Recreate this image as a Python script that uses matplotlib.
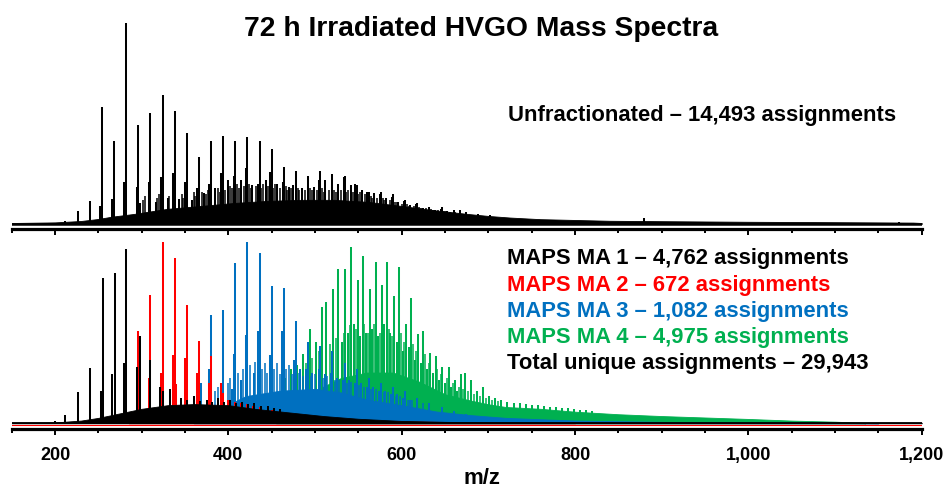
import matplotlib
matplotlib.use("Agg")
import matplotlib.pyplot as plt
from matplotlib.ticker import MultipleLocator, FixedLocator, FixedFormatter

plt.rcParams['font.family'] = ['Liberation Sans', 'DejaVu Sans']

BLACK = "#000000"
RED = "#FF0000"
BLUE = "#0070C0"
GREEN = "#00B050"

# ---------------- Unfractionated spectrum (top) ----------------
top_main_mz = [212, 226, 240, 254, 268, 282, 296, 310, 324, 338, 352, 366, 380, 394,
               408, 422, 436, 450, 464, 478, 492, 506, 520, 534, 548, 562, 576, 590,
               604, 618, 632, 646, 660, 879, 1174]
top_main_h = [1.6, 6.6, 11.6, 58.3, 41.2, 100, 49.2, 55.0, 64.2, 56.0, 45.4, 33.1, 41.4, 43.7,
              41.4, 43.1, 41.4, 37.3, 28.5, 26.5, 24.0, 26.2, 24.7, 24.0, 19.4, 16.0, 16.0, 14.7,
              11.9, 10.3, 8.3, 8.3, 7.0, 2.8, 1.2]
top_sec_mz = [252, 266, 280, 294, 298, 308, 316, 322, 330, 336, 343, 350, 358, 364, 372,
              378, 385, 392, 400, 406, 414, 420, 427, 434, 443, 448, 456, 463, 470, 475,
              485, 492, 499, 505, 512, 519, 526, 533, 541, 546, 554, 560, 568, 575, 582,
              589, 596, 603, 610, 617, 624, 631, 638, 645, 652, 667, 674, 688, 702]
top_sec_h = [8.9, 12.4, 21.0, 18.5, 10.4, 20.7, 11.0, 23.5, 12.8, 25.2, 12.4, 21.0, 12.0, 17.7, 15.2,
             19.9, 17.7, 25.5, 21.9, 24.0, 21.9, 28.0, 19.4, 20.0, 21.9, 25.7, 20.0, 21.0, 18.2, 19.4,
             17.7, 19.0, 18.5, 21.9, 21.9, 19.0, 20.0, 23.5, 19.4, 20.0, 16.9, 16.0, 15.2, 15.0, 13.0,
             13.5, 11.0, 11.5, 9.5, 10.0, 8.0, 8.5, 7.0, 7.5, 6.5, 7.0, 6.0, 5.0, 4.5]
top_minor_mz = [302, 304, 318, 320, 332, 346, 348, 360, 362, 370, 374, 376, 388, 390, 396,
                402, 404, 410, 412, 418, 424, 426, 432, 438, 440, 446, 452, 454, 460, 466,
                468, 472, 480, 482, 488, 494, 496, 502, 508, 510, 516, 522, 524, 530, 536,
                538, 544, 550, 552, 558, 564, 566, 572, 578, 580, 586, 592, 594, 600, 606,
                608, 614, 620, 622, 628, 634, 636, 642, 648, 650, 656, 662]
top_minor_h = [12, 14, 13, 15, 14, 15, 13, 16, 14, 16, 15, 17, 18, 16, 17,
               19, 18, 20, 18, 19, 20, 18, 19, 18, 20, 19, 18, 20, 18, 19,
               17, 18, 18, 17, 17, 18, 17, 17, 18, 16, 17, 17, 16, 17, 16,
               17, 16, 15, 16, 15, 14, 13, 13, 13, 12, 12, 11, 11, 10, 10,
               9, 9, 8.5, 8, 8, 7.5, 7, 7, 6.5, 6.5, 6, 6]
top_env_mz = [150, 200, 230, 250, 265, 291, 329, 369, 408, 446, 484, 522, 561, 599, 638,
              676, 700, 725, 760, 800, 840, 900, 1000, 1100, 1190, 1200]
top_env_h = [0.5, 0.8, 1.5, 2.5, 3.6, 5.0, 7.5, 9.0, 10.5, 11.5, 12.0, 12.0, 11.0, 9.0, 6.8,
             5.0, 4.0, 3.2, 2.4, 2.0, 1.6, 1.4, 1.1, 0.9, 0.7, 0.5]

# ---------------- MAPS MA 1 (black) ----------------
ma1_mz = [200, 212, 227, 240, 253, 255, 266, 269, 280, 282, 295, 298, 310, 321, 324, 333,
          345, 352, 360, 367, 375, 381, 388, 395, 402, 409, 416, 423, 430, 438, 446, 453, 460]
ma1_h = [1.2, 4.6, 17.0, 30.7, 18.0, 80.0, 27.0, 83.0, 33.0, 96.0, 31.0, 48.0, 35.0, 20.0, 18.0, 18.7,
         14.0, 13.0, 15.0, 12.5, 13.0, 12.0, 14.0, 11.5, 13.0, 11.0, 12.0, 10.5, 11.0, 9.5, 9.5, 8.5, 8.0]
ma1_env_mz = [150, 200, 230, 250, 270, 300, 330, 360, 400, 430, 470, 510, 550, 600, 650, 700, 1200]
ma1_env_h = [0.3, 0.5, 1.5, 3.0, 5.0, 8.0, 10.0, 10.6, 10.0, 8.0, 6.0, 4.0, 2.5, 1.3, 0.8, 0.5, 0.3]

# ---------------- MAPS MA 2 (red) ----------------
ma2_mz = [294, 296, 308, 310, 322, 324, 336, 338, 340, 350, 352, 364, 366, 378, 380, 391, 394,
          400, 408, 414, 422, 428, 436, 450]
ma2_h = [20.0, 51.0, 25.0, 70.8, 28.0, 100.0, 37.7, 91.4, 21.6, 36.0, 65.4, 28.0, 45.6, 22.0, 37.0,
         22.0, 16.5, 13.0, 12.0, 11.0, 10.5, 9.5, 9.0, 7.5]
ma2_env_mz = [285, 290, 310, 340, 380, 420, 460, 500, 540, 600, 700, 800]
ma2_env_h = [0.0, 3.0, 6.0, 10.0, 10.0, 8.0, 6.0, 4.0, 2.0, 1.0, 0.5, 0.0]

# ---------------- MAPS MA 3 (blue) ----------------
ma3_mz = [368, 378, 380, 392, 394, 404, 406, 408, 414, 420, 422, 429, 434, 436, 448, 450,
          462, 464, 476, 478, 483, 490, 492, 497, 504, 506, 511, 518, 520, 525, 532, 534,
          539, 546, 548, 553, 560, 562, 567, 574, 576, 581, 588, 590, 595, 602, 604, 609,
          618, 632, 646, 660, 674]
ma3_h = [22.0, 30.0, 59.7, 22.0, 62.5, 19.0, 38.0, 88.2, 24.0, 48.5, 100.0, 28.0, 51.0, 93.8, 37.7, 75.7,
         51.0, 74.5, 35.0, 56.3, 30.0, 30.0, 45.0, 28.0, 30.0, 42.6, 27.0, 28.0, 40.0, 25.0, 24.0, 33.0,
         24.0, 22.0, 30.0, 22.0, 20.0, 25.0, 20.0, 18.0, 22.0, 18.0, 16.0, 20.0, 16.0, 14.0, 18.0, 13.0,
         14.0, 11.0, 9.0, 7.0, 5.0]
ma3_minor_mz = [385, 388, 399, 402, 411, 417, 425, 431, 439, 442, 445, 453, 456, 459, 467,
                470, 473, 481, 486, 495, 500, 509, 514, 523, 528, 537, 542, 551, 556, 565,
                570, 579, 584, 593, 598, 607, 612, 625]
ma3_minor_h = [18, 20, 22, 25, 28, 30, 32, 34, 30, 33, 28, 30, 33, 27, 30,
               32, 27, 28, 26, 26, 27, 25, 26, 24, 24, 22, 23, 21, 20, 19,
               19, 17, 17, 15, 15, 13, 13, 11]
ma3_env_mz = [360, 370, 390, 420, 460, 500, 530, 560, 600, 640, 680, 720, 800, 900, 1000, 1100, 1150]
ma3_env_h = [0.0, 3.0, 8.0, 15.0, 18.0, 19.0, 17.0, 13.0, 10.0, 6.5, 4.5, 3.0, 1.5, 0.8, 0.4, 0.2, 0.0]

# ---------------- MAPS MA 4 (green) ----------------
ma4_mz = [465, 472, 479, 486, 494, 501, 508, 513, 521, 527, 531, 535, 538, 542, 545, 549,
          552, 555, 559, 563, 566, 570, 573, 577, 580, 583, 587, 591, 594, 597, 601, 605,
          608, 611, 615, 619, 622, 625, 629, 633, 636, 639, 643, 647, 650, 654, 657, 661,
          664, 668, 673, 680, 687, 694, 701, 708, 715, 722, 729, 736, 743, 750, 757, 764,
          771, 778, 785, 792, 799, 806, 813, 820]
ma4_h = [25.0, 30.0, 32.0, 38.0, 52.0, 45.0, 64.0, 67.0, 74.0, 85.0, 45.0, 85.0, 50.0, 97.0, 55.0, 79.0,
         48.0, 92.0, 50.0, 74.0, 52.0, 89.0, 48.0, 76.0, 55.0, 89.0, 50.0, 70.0, 45.0, 86.0, 40.0, 55.0,
         42.0, 69.0, 35.0, 49.0, 33.0, 51.0, 30.0, 39.0, 28.0, 37.0, 24.0, 31.0, 22.0, 31.0, 20.0, 24.0,
         18.0, 27.0, 27.6, 24.0, 18.0, 20.0, 15.0, 14.0, 13.0, 12.0, 11.0, 11.0, 10.5, 10.0, 10.0, 9.5,
         9.0, 9.0, 8.5, 8.5, 8.0, 7.5, 7.5, 7.0]
ma4_minor_mz = [476, 483, 490, 497, 504, 517, 524, 533, 540, 547, 557, 561, 568, 575, 585,
                589, 599, 603, 613, 617, 627, 631, 641, 645, 652, 659, 666, 671, 676, 683,
                690, 697, 704, 711]
ma4_minor_h = [24, 28, 33, 36, 40, 44, 47, 50, 54, 52, 55, 50, 55, 50, 52,
               48, 50, 45, 44, 40, 38, 33, 30, 27, 25, 22, 20, 19, 18, 16,
               15, 14, 13, 12.5]
ma4_env_mz = [455, 470, 500, 530, 560, 590, 620, 650, 680, 700, 720, 740, 760, 800, 850,
              900, 950, 1000, 1050, 1100, 1130, 1135]
ma4_env_h = [0.0, 8.0, 18.0, 25.0, 28.0, 28.0, 23.0, 16.0, 12.5, 10.5, 9.0, 8.5, 8.0, 6.4, 5.0,
             4.0, 3.2, 2.4, 1.5, 0.9, 0.3, 0.0]

# labels
title = "72 h Irradiated HVGO Mass Spectra"
top_label = "Unfractionated \u2013 14,493 assignments"
legend_lines = [
    ("MAPS MA 1 \u2013 4,762 assignments", BLACK),
    ("MAPS MA 2 \u2013 672 assignments", RED),
    ("MAPS MA 3 \u2013 1,082 assignments", BLUE),
    ("MAPS MA 4 \u2013 4,975 assignments", GREEN),
    ("Total unique assignments \u2013 29,943", BLACK),
]
xtick_vals = [200, 400, 600, 800, 1000, 1200]
xtick_labels = ["200", "400", "600", "800", "1,000", "1,200"]

W, H = 947, 488
fig = plt.figure(figsize=(W / 100, H / 100), dpi=100)

def px_axes(left, top, right, bottom):
    return fig.add_axes([left / W, 1 - bottom / H, (right - left) / W, (bottom - top) / H])

ax1 = px_axes(11.7, 15, 921.7, 229.3)
ax2 = px_axes(11.7, 236, 921.7, 429.3)

def style(ax, labels):
    ax.set_xlim(150, 1200)
    for s in ("top", "left", "right"):
        ax.spines[s].set_visible(False)
    ax.spines["bottom"].set_linewidth(2.3)
    ax.set_yticks([])
    ax.xaxis.set_major_locator(FixedLocator(xtick_vals))
    ax.xaxis.set_minor_locator(MultipleLocator(50))
    ax.tick_params(axis="x", which="major", direction="out", length=4.5, width=1.4, pad=8)
    ax.tick_params(axis="x", which="minor", direction="out", length=2.8, width=1.4)
    if labels:
        ax.xaxis.set_major_formatter(FixedFormatter(xtick_labels))
        for t in ax.get_xticklabels():
            t.set_fontsize(13)
            t.set_fontweight("bold")
    else:
        ax.set_xticklabels([])
    ax.patch.set_alpha(0)

style(ax1, False)
style(ax2, True)

ax1.set_ylim(-2.633, 103.8)
ax2.set_ylim(-3.31, 103.3)

LW = 1.45
LWm = 1.1

# top spectrum
ax1.fill_between(top_env_mz, 0, top_env_h, color=BLACK, lw=0.6, zorder=2)
ax1.vlines(top_minor_mz, 0, top_minor_h, color=BLACK, lw=LWm, zorder=2.5)
ax1.vlines(top_sec_mz, 0, top_sec_h, color=BLACK, lw=LW, zorder=3)
ax1.vlines(top_main_mz, 0, top_main_h, color=BLACK, lw=LW, zorder=4)
ax1.axhline(0, color=BLACK, lw=1.8, zorder=5)

# bottom spectra: green < blue < red < black
ax2.fill_between(ma4_env_mz, 0, ma4_env_h, color=GREEN, lw=0.6, zorder=2)
ax2.vlines(ma4_minor_mz, 0, ma4_minor_h, color=GREEN, lw=LWm, zorder=2.3)
ax2.vlines(ma4_mz, 0, ma4_h, color=GREEN, lw=LW, zorder=2.5)
ax2.fill_between(ma3_env_mz, 0, ma3_env_h, color=BLUE, lw=0.6, zorder=3)
ax2.vlines(ma3_minor_mz, 0, ma3_minor_h, color=BLUE, lw=LWm, zorder=3.3)
ax2.vlines(ma3_mz, 0, ma3_h, color=BLUE, lw=LW, zorder=3.5)
ax2.fill_between(ma2_env_mz, 0, ma2_env_h, color=RED, lw=0.6, zorder=4)
ax2.vlines(ma2_mz, 0, ma2_h, color=RED, lw=LW, zorder=4.5)
ax2.fill_between(ma1_env_mz, 0, ma1_env_h, color=BLACK, lw=0.6, zorder=5)
ax2.vlines(ma1_mz, 0, ma1_h, color=BLACK, lw=LW, zorder=5.5)
ax2.axhline(-0.9, color=RED, lw=0.8, zorder=6)
ax2.axhline(0, color=BLACK, lw=1.3, zorder=6.5)

# texts
fig.text(481.5 / W, 1 - 29 / H, title, ha="center", va="center", fontsize=20.3, fontweight="bold")
fig.text(508 / W, 1 - 115 / H, top_label, ha="left", va="center", fontsize=15.8, fontweight="bold")
ys = [258.3, 285, 311.7, 337.3, 364]
for (txt, col), y in zip(legend_lines, ys):
    fig.text(507 / W, 1 - y / H, txt, ha="left", va="center", fontsize=15.8,
             fontweight="bold", color=col)
fig.text(482 / W, 1 - 484.5 / H, "m/z", ha="center", va="baseline", fontsize=16, fontweight="bold")

fig.savefig("out.png", dpi=100)
